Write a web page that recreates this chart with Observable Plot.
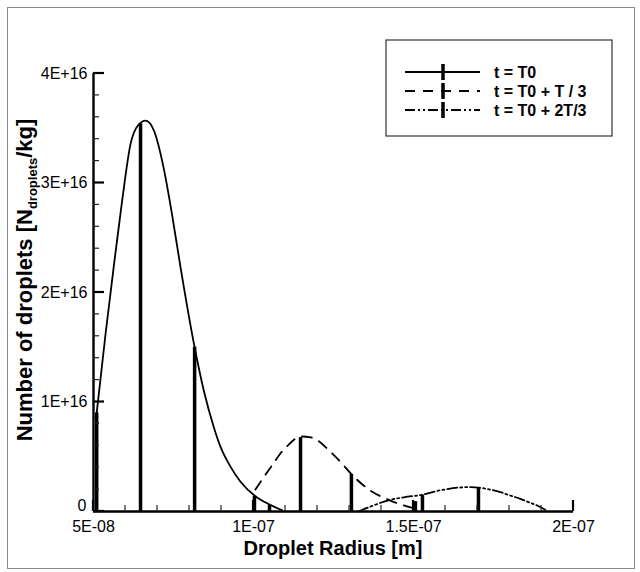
<!DOCTYPE html>
<html>
<head>
<meta charset="utf-8">
<script src="https://cdn.jsdelivr.net/npm/d3@7"></script>
<script src="https://cdn.jsdelivr.net/npm/@observablehq/plot@0.6"></script>
<style>
  html, body { margin: 0; padding: 0; background: #fff; }
  #wrap { position: relative; width: 640px; height: 572px; }
  #border { position: absolute; left: 7px; top: 7px; width: 626px; height: 560px; border: 1px solid #8a8a8a; pointer-events: none; }
</style>
</head>
<body>
<div id="wrap"><div id="border"></div></div>
<script>
// ---- Axis ticks and labels ----
const xTicksMajor = [5e-8, 1e-7, 1.5e-7, 2e-7];
const xTickLabels = ["5E-08", "1E-07", "1.5E-07", "2E-07"];
const xTicksMinor = [6e-8, 7e-8, 8e-8, 9e-8, 1.1e-7, 1.2e-7, 1.3e-7, 1.4e-7, 1.6e-7, 1.7e-7, 1.8e-7, 1.9e-7];
const yTicksMajor = [0, 1e16, 2e16, 3e16, 4e16];
const yTickLabels = ["0", "1E+16", "2E+16", "3E+16", "4E+16"];
const yTicksMinor = [0.2e16, 0.4e16, 0.6e16, 0.8e16, 1.2e16, 1.4e16, 1.6e16, 1.8e16,
                     2.2e16, 2.4e16, 2.6e16, 2.8e16, 3.2e16, 3.4e16, 3.6e16, 3.8e16];

// ---- Series ----
const seriesNames = ["t = T0", "t = T0 + T / 3", "t = T0 + 2T/3"];

// t = T0 (solid)
const radiusT0 = [5.1e-8, 5.38e-8, 5.63e-8, 5.9e-8, 6.16e-8, 6.4e-8, 6.63e-8, 6.9e-8, 7.19e-8, 7.45e-8,
                  7.72e-8, 8.16e-8, 8.45e-8, 8.76e-8, 8.97e-8, 9.28e-8, 9.6e-8, 1.006e-7, 1.053e-7, 1.09e-7];
const countT0  = [0.90e16, 1.63e16, 2.23e16, 2.85e16, 3.36e16, 3.53e16, 3.57e16, 3.47e16, 3.14e16, 2.72e16,
                  2.23e16, 1.50e16, 1.10e16, 0.77e16, 0.59e16, 0.41e16, 0.27e16, 0.14e16, 0.06e16, 0.01e16];
const barRadiusT0 = [5.1e-8, 6.47e-8, 8.16e-8, 1.003e-7, 1.05e-7];
const barCountT0  = [0.90e16, 3.54e16, 1.50e16, 0.14e16, 0.06e16];

// t = T0 + T/3 (dashed)
const radiusT1 = [1.006e-7, 1.031e-7, 1.058e-7, 1.084e-7, 1.11e-7, 1.131e-7, 1.153e-7, 1.175e-7, 1.2e-7, 1.23e-7,
                  1.263e-7, 1.285e-7, 1.303e-7, 1.335e-7, 1.366e-7, 1.4e-7, 1.428e-7, 1.465e-7, 1.5e-7];
const countT1  = [0.20e16, 0.31e16, 0.42e16, 0.53e16, 0.61e16, 0.665e16, 0.685e16, 0.68e16, 0.65e16, 0.575e16,
                  0.48e16, 0.41e16, 0.35e16, 0.26e16, 0.19e16, 0.135e16, 0.10e16, 0.06e16, 0.03e16];
const barRadiusT1 = [1.147e-7, 1.306e-7, 1.506e-7];
const barCountT1  = [0.675e16, 0.34e16, 0.09e16];

// t = T0 + 2T/3 (dash-dot-dot)
const radiusT2 = [1.328e-7, 1.37e-7, 1.419e-7, 1.47e-7, 1.53e-7, 1.57e-7, 1.606e-7, 1.64e-7, 1.669e-7, 1.709e-7,
                  1.74e-7, 1.772e-7, 1.80e-7, 1.834e-7, 1.86e-7, 1.888e-7, 1.92e-7];
const countT2  = [0, 0.05e16, 0.10e16, 0.13e16, 0.155e16, 0.185e16, 0.205e16, 0.218e16, 0.222e16, 0.216e16,
                  0.20e16, 0.176e16, 0.148e16, 0.116e16, 0.085e16, 0.053e16, 0.003e16];
const barRadiusT2 = [1.528e-7, 1.703e-7];
const barCountT2  = [0.15e16, 0.22e16];

// ---- Build tables ----
const zip = (xs, ys) => xs.map((x, i) => ({x, y: ys[i]}));
const lineT0 = zip(radiusT0, countT0);
const lineT1 = zip(radiusT1, countT1);
const lineT2 = zip(radiusT2, countT2);
const bars = [
  ...zip(barRadiusT0, barCountT0),
  ...zip(barRadiusT1, barCountT1),
  ...zip(barRadiusT2, barCountT2)
];

const dashes = [null, "10,8", "10,3,2,3,2,3"];
const W = 640, H = 572, mL = 93, mR = 67, mT = 73, mB = 61;
const innerW = W - mL - mR, innerH = H - mT - mB;
const font = "'Liberation Sans', Arial, Helvetica, sans-serif";
const yLabelFmt = d => yTickLabels[yTicksMajor.indexOf(d)];
const xMin = xTicksMajor[0], yMin = yTicksMajor[0];

const chart = Plot.plot({
  width: W, height: H,
  marginLeft: mL, marginRight: mR, marginTop: mT, marginBottom: mB,
  x: {domain: [xTicksMajor[0], xTicksMajor[xTicksMajor.length - 1]]},
  y: {domain: [yTicksMajor[0], yTicksMajor[yTicksMajor.length - 1]]},
  style: {fontFamily: font, fontSize: "16px", color: "black", background: "white", overflow: "visible"},
  marks: [
    Plot.ruleX(bars, {x: "x", y1: 0, y2: "y", stroke: "black", strokeWidth: 3.5}),
    Plot.line(lineT0, {x: "x", y: "y", curve: "monotone-x", stroke: "black", strokeWidth: 1.8}),
    Plot.line(lineT1, {x: "x", y: "y", curve: "monotone-x", stroke: "black", strokeWidth: 1.8, strokeDasharray: dashes[1]}),
    Plot.line(lineT2, {x: "x", y: "y", curve: "monotone-x", stroke: "black", strokeWidth: 1.8, strokeDasharray: dashes[2]}),
    // axis lines
    Plot.ruleX([xMin], {stroke: "black", strokeWidth: 2.4}),
    Plot.ruleY([yMin], {stroke: "black", strokeWidth: 2.4}),
    // tick labels
    Plot.axisX(xTicksMajor, {tickSize: 0, tickPadding: 9, label: null, fontSize: 16,
      tickFormat: d => xTickLabels[xTicksMajor.indexOf(d)]}),
    Plot.axisY(yTicksMajor.slice(1), {tickSize: 0, tickPadding: 6, label: null, fontSize: 16, tickFormat: yLabelFmt}),
    Plot.axisY(yTicksMajor.slice(0, 1), {tickSize: 0, tickPadding: 7, label: null, fontSize: 16, dy: -6, tickFormat: yLabelFmt})
  ]
});

document.getElementById("wrap").prepend(chart);

// ---- Inward ticks, positioned with the chart's own scales ----
const svg = d3.select(chart);
const sx = chart.scale("x"), sy = chart.scale("y");
const x0 = sx.apply(xMin), y0 = sy.apply(yMin);
const tg = svg.append("g").attr("stroke", "black").attr("fill", "none");
yTicksMajor.forEach(v => tg.append("line")
  .attr("x1", x0).attr("x2", x0 + 11).attr("y1", sy.apply(v)).attr("y2", sy.apply(v)).attr("stroke-width", 2.2));
yTicksMinor.forEach(v => tg.append("line")
  .attr("x1", x0).attr("x2", x0 + 6).attr("y1", sy.apply(v)).attr("y2", sy.apply(v)).attr("stroke-width", 1.2).attr("stroke", "#222"));
xTicksMajor.forEach(v => tg.append("line")
  .attr("x1", sx.apply(v)).attr("x2", sx.apply(v)).attr("y1", y0).attr("y2", y0 - 11).attr("stroke-width", 2.2));
xTicksMinor.forEach(v => tg.append("line")
  .attr("x1", sx.apply(v)).attr("x2", sx.apply(v)).attr("y1", y0).attr("y2", y0 - 6).attr("stroke-width", 1.2).attr("stroke", "#222"));

// ---- Titles and legend ----
svg.append("text")
  .attr("x", mL + innerW / 2).attr("y", 555)
  .attr("text-anchor", "middle")
  .attr("font-family", font).attr("font-weight", "bold").attr("font-size", 20)
  .attr("fill", "black")
  .text("Droplet Radius [m]");

const yt = svg.append("text")
  .attr("transform", `translate(32, ${mT + innerH / 2 - 12}) rotate(-90)`)
  .attr("text-anchor", "middle")
  .attr("font-family", font).attr("font-weight", "bold").attr("font-size", 22)
  .attr("fill", "black");
yt.append("tspan").text("Number of droplets [N");
yt.append("tspan").attr("font-size", 13).attr("dy", 5).text("droplets");
yt.append("tspan").attr("dy", -5).text("/kg]");

const lg = svg.append("g");
lg.append("rect")
  .attr("x", 386).attr("y", 40).attr("width", 226).attr("height", 96)
  .attr("fill", "white").attr("stroke", "#333").attr("stroke-width", 1.2);
seriesNames.forEach((name, i) => {
  const y = 72 + i * 19;
  lg.append("line").attr("x1", 405).attr("x2", 480).attr("y1", y).attr("y2", y)
    .attr("stroke", "black").attr("stroke-width", 1.8)
    .attr("stroke-dasharray", dashes[i]);
  lg.append("line").attr("x1", 443).attr("x2", 443).attr("y1", y - 8).attr("y2", y + 8)
    .attr("stroke", "black").attr("stroke-width", 3.5);
  lg.append("text").attr("x", 494).attr("y", y).attr("dy", "0.36em")
    .attr("text-anchor", "start")
    .attr("font-family", font).attr("font-weight", "bold").attr("font-size", 16)
    .attr("fill", "black").text(name);
});
</script>
</body>
</html>
